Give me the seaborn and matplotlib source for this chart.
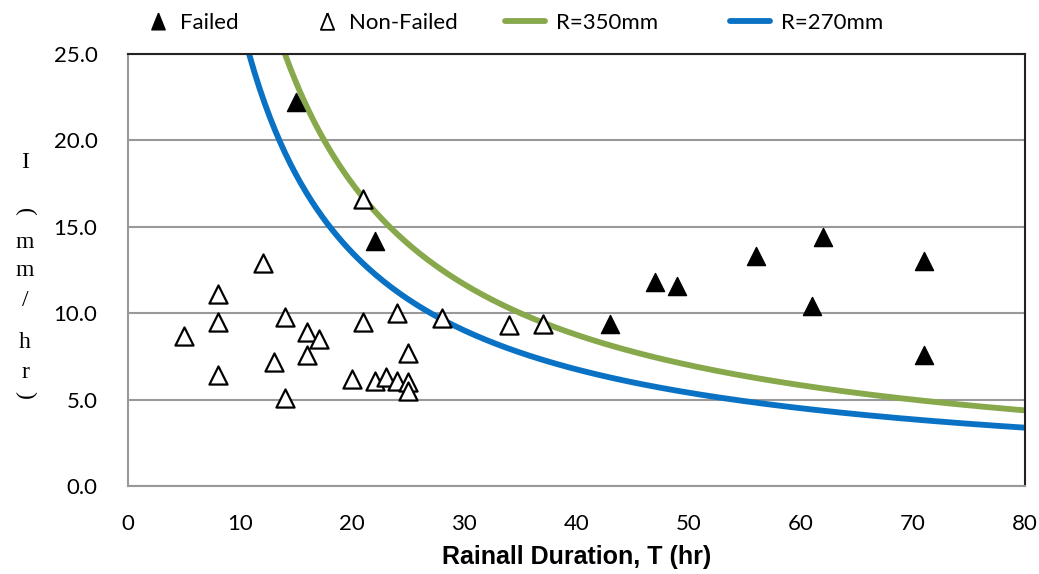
import numpy as np
import pandas as pd
import matplotlib
matplotlib.use("Agg")
import matplotlib.pyplot as plt
import seaborn as sns
from matplotlib.lines import Line2D

# Failed events: duration T (hr), intensity I (mm/hr)
failed_T = [15, 22, 43, 47, 49, 56, 61, 62, 71, 71]
failed_I = [22.2, 14.2, 9.4, 11.8, 11.6, 13.3, 10.4, 14.4, 13.0, 7.6]

# Non-failed events
nonfailed_T = [5, 8, 8, 8, 12, 13, 14, 14, 16, 16, 17, 20, 21, 21, 22, 23,
               24, 24, 25, 25, 25, 28, 34, 37]
nonfailed_I = [8.7, 11.1, 9.5, 6.4, 12.9, 7.2, 9.8, 5.1, 8.9, 7.6, 8.5, 6.2,
               16.6, 9.5, 6.1, 6.3, 10.0, 6.1, 7.7, 6.0, 5.5, 9.7, 9.3, 9.4]

# threshold curves I = R / T
thresholds = {"R=350mm": 350, "R=270mm": 270}
curve_colors = {"R=350mm": "#88A84C", "R=270mm": "#0A72C4"}

sns.set_style("white")
main_font = ["Lato", "DejaVu Sans"]
plt.rcParams["font.family"] = main_font
plt.rcParams["text.color"] = "black"
plt.rcParams["axes.labelcolor"] = "black"
plt.rcParams["xtick.labelcolor"] = "black"
plt.rcParams["ytick.labelcolor"] = "black"

W, H = 1039, 574
fig = plt.figure(figsize=(W / 100, H / 100), dpi=100)
ax = fig.add_axes([128 / W, 1 - 486 / H, (1025 - 128) / W, (486 - 54) / H])

rows = []
for name, R in thresholds.items():
    T = np.linspace(R / 25.0, 80, 300)
    rows.append(pd.DataFrame({"T": T, "I": R / T, "curve": name}))
curves = pd.concat(rows, ignore_index=True)
sns.lineplot(data=curves, x="T", y="I", hue="curve", palette=curve_colors,
             linewidth=4.2, ax=ax, legend=False, zorder=2)

sns.scatterplot(x=nonfailed_T, y=nonfailed_I, marker="^", s=170,
                facecolor="white", edgecolor="black", linewidth=1.6,
                ax=ax, zorder=3)
sns.scatterplot(x=failed_T, y=failed_I, marker="^", s=170,
                color="black", edgecolor="black", linewidth=1.0,
                ax=ax, zorder=4)

ax.set_xlim(0, 80)
ax.set_ylim(0, 25)
ax.set_xticks(range(0, 81, 10))
ax.set_yticks(np.arange(0, 25.1, 5))
ax.set_yticklabels([f"{v:.1f}" for v in np.arange(0, 25.1, 5)])
ax.yaxis.grid(True, color="#999999", linewidth=1.5)
ax.set_axisbelow(True)
ax.tick_params(axis="both", which="major", direction="out", length=6,
               width=1.2, color="#999999", labelsize=16, labelcolor="black")
ax.tick_params(axis="x", pad=14)
ax.tick_params(axis="y", pad=16)

for side in ["left", "bottom"]:
    ax.spines[side].set_color("#999999")
    ax.spines[side].set_linewidth(1.5)
for side in ["top", "right"]:
    ax.spines[side].set_color("#222222")
    ax.spines[side].set_linewidth(1.5)

ax.set_xlabel("Rainall Duration, T (hr)", fontsize=18, fontweight="bold",
              labelpad=8, color="black",
              family=["Liberation Sans", "DejaVu Sans"])
ax.set_ylabel("")

# vertical stacked y-axis label
ylab_chars = [("I", 0.0), ("(", -90), ("m", 0.0), ("m", 0.0), ("/", 0.0),
              ("h", 0.0), ("r", 0.0), (")", -90)]
ylab_y = [162, 212, 242, 270, 300, 343, 373, 395]
for (ch, rot), py in zip(ylab_chars, ylab_y):
    fig.text(25 / W, 1 - py / H, ch, ha="center", va="center",
             rotation=rot, fontsize=17, color="black",
             family=["Liberation Serif", "DejaVu Serif"])

# legend entries placed one by one, like the spreadsheet legend
tri = [(0, 1), (-0.8, -1), (0.8, -1), (0, 1)]
entries = [
    (Line2D([], [], marker=tri, linestyle="none", color="black",
            markersize=12), "Failed", 147, 1.0),
    (Line2D([], [], marker=tri, linestyle="none", markerfacecolor="white",
            markeredgecolor="black", markeredgewidth=1.3, markersize=12),
     "Non-Failed", 316, 1.0),
    (Line2D([], [], color=curve_colors["R=350mm"], linewidth=4.2),
     "R=350mm", 505, 1.8),
    (Line2D([], [], color=curve_colors["R=270mm"], linewidth=4.2),
     "R=270mm", 730, 1.8),
]
for handle, label, px, hl in entries:
    leg = fig.legend([handle], [label], loc="center left",
                     bbox_to_anchor=(px / W, 1 - 23 / H), frameon=False,
                     fontsize=16, handlelength=hl, handletextpad=0.5,
                     borderpad=0, borderaxespad=0)
    for t in leg.get_texts():
        t.set_color("black")

fig.savefig("out.png", dpi=100)
